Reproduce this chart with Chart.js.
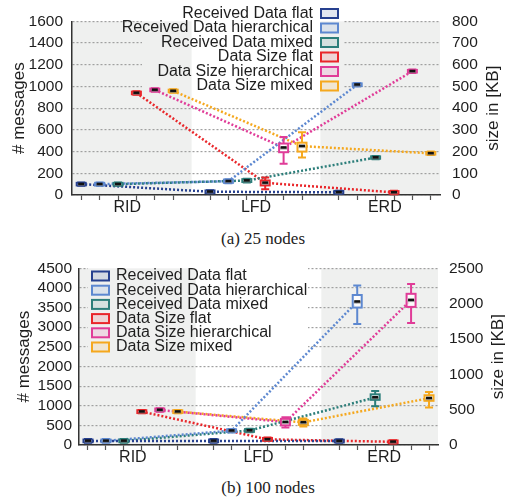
<!DOCTYPE html>
<html><head><meta charset="utf-8">
<script src="https://cdn.jsdelivr.net/npm/chart.js@4.4.1/dist/chart.umd.min.js"></script>
<style>
html,body{margin:0;padding:0;background:#fff;width:505px;height:500px;overflow:hidden;}
.wrap{position:absolute;left:0;width:505px;height:225px;}
.cap{position:absolute;transform:translateX(-50%);white-space:nowrap;font-family:"Liberation Serif","Times New Roman",serif;font-size:17px;line-height:20px;color:#222;}
</style></head><body>
<div class="wrap" style="top:0px"><canvas id="ca"></canvas></div>
<div class="cap" style="left:263px;top:229px">(a) 25 nodes</div>
<div class="wrap" style="top:248px"><canvas id="cb"></canvas></div>
<div class="cap" style="left:268px;top:478px">(b) 100 nodes</div>
<script>
// ---------- data ----------
const categories = ['RID', 'LFD', 'ERD'];
const seriesLabels = ['Received Data flat', 'Received Data hierarchical', 'Received Data mixed',
                      'Data Size flat', 'Data Size hierarchical', 'Data Size mixed'];
const leftTitle = '# messages';
const rightTitle = 'size in [KB]';

// each entry: [min, q1, median, q3, max] per category (RID, LFD, ERD)
// 25 nodes: received data in # messages, data size in KB
const recvFlat25  = [[86, 88, 100, 112, 114], [16, 18, 30, 42, 44], [11, 13, 25, 37, 39]];
const recvHier25  = [[86, 88, 100, 112, 114], [108, 112, 127, 142, 146], [1000, 1004, 1016, 1028, 1032]];
const recvMixed25 = [[86, 88, 100, 112, 114], [116, 120, 133, 146, 150], [330, 334, 345, 356, 360]];
const sizeFlat25  = [[462, 464, 470, 476, 478], [27, 44, 56, 67, 81], [4, 6, 12, 18, 20]];
const sizeHier25  = [[476, 478, 484, 490, 492], [144, 197, 218, 237, 267], [562, 564, 570, 576, 578]];
const sizeMixed25 = [[471, 473, 479, 485, 487], [173, 200, 225, 241, 289], [184, 186, 192, 198, 200]];

// 100 nodes
const recvFlat100  = [[60, 70, 105, 140, 150], [60, 70, 105, 140, 150], [55, 65, 100, 135, 145]];
const recvHier100  = [[60, 70, 105, 140, 150], [320, 330, 365, 400, 410], [3080, 3500, 3650, 3820, 4060]];
const recvMixed100 = [[60, 70, 105, 140, 150], [325, 335, 370, 405, 415], [985, 1150, 1210, 1290, 1375]];
const sizeFlat100  = [[448, 452, 472, 492, 496], [55, 60, 80, 100, 105], [22, 26, 45, 64, 68]];
const sizeHier100  = [[472, 476, 496, 516, 520], [246, 278, 324, 370, 393], [1727, 1954, 2050, 2139, 2278]];
const sizeMixed100 = [[448, 452, 472, 492, 496], [260, 285, 320, 355, 375], [532, 625, 662, 704, 750]];

// axis ticks
const leftMax25 = 1600, leftStep25 = 200, rightMax25 = 800, rightStep25 = 100;
const leftMax100 = 4500, leftStep100 = 500, rightMax100 = 2500, rightStep100 = 500;

// ---------- style ----------
const colors = ['#26408f', '#5d88d0', '#2c7e7a', '#e9262a', '#e03c98', '#f5a81e'];
const FONT = '"Liberation Sans", Arial, Helvetica, sans-serif';
const TXT = '#1e1e1e';
const SHADE = '#eff0ef';
const GROUP = 7;                       // 6 slots + 1 gap per category
const slotTicks = [];
for (let c = 0; c < categories.length; c++) for (let s = 0; s < 6; s++) slotTicks.push(c * GROUP + s);
const catPos = categories.map((_, c) => c * GROUP + 2.5);
const shadeRanges = [[-0.5, 6], [13, 19.5]];

function build(id, series, geo) {
  const datasets = series.map((s, i) => ({
    label: seriesLabels[i],
    data: s.map((b, c) => ({ x: c * GROUP + i, y: b[2] })),
    boxes: s,
    slot: i,
    yAxisID: i < 3 ? 'y' : 'y1',
    borderColor: colors[i],
    backgroundColor: colors[i],
    borderWidth: 2.5,
    borderDash: [2, 2],
    pointRadius: 0,
    fill: false,
    tension: 0
  }));

  function shade(chart) {
    const { ctx, chartArea: a, scales: { x } } = chart;
    ctx.save();
    ctx.fillStyle = SHADE;
    shadeRanges.forEach(([s, e]) => {
      const x0 = x.getPixelForValue(s), x1 = x.getPixelForValue(e);
      ctx.fillRect(x0, a.top, x1 - x0, a.bottom - a.top);
    });
    ctx.restore();
  }

  const plugin = {
    id: 'custom_' + id,
    beforeDraw(chart) { shade(chart); },
    beforeDatasetsDraw(chart) {
      const { ctx, chartArea: a } = chart;
      const L = geo.legend;
      ctx.save();
      ctx.beginPath(); ctx.rect(L.bx, L.by, L.bw, L.bh); ctx.clip();
      ctx.beginPath(); ctx.rect(a.left + 1, a.top - 1, a.right - a.left - 1, a.bottom - a.top); ctx.clip();
      ctx.fillStyle = '#fff';
      ctx.fillRect(L.bx, L.by, L.bw, L.bh);
      shade(chart);
      ctx.restore();
    },
    afterDatasetsDraw(chart) {
      const { ctx, scales: { x } } = chart;
      ctx.save();
      chart.data.datasets.forEach(ds => {
        const ys = chart.scales[ds.yAxisID];
        ds.boxes.forEach((b, c) => {
          const px = x.getPixelForValue(c * GROUP + ds.slot);
          const [mn, q1, md, q3, mx] = b.map(v => ys.getPixelForValue(v));
          const hw = 4.5, cw = 4;
          ctx.strokeStyle = ds.borderColor;
          ctx.lineWidth = 2;
          ctx.beginPath();
          ctx.moveTo(px, q3); ctx.lineTo(px, mx);
          ctx.moveTo(px, q1); ctx.lineTo(px, mn);
          ctx.moveTo(px - cw, mx); ctx.lineTo(px + cw, mx);
          ctx.moveTo(px - cw, mn); ctx.lineTo(px + cw, mn);
          ctx.stroke();
          ctx.fillStyle = 'rgba(255,255,255,0.8)';
          ctx.fillRect(px - hw, q3, hw * 2, q1 - q3);
          ctx.strokeRect(px - hw, q3, hw * 2, q1 - q3);
          ctx.fillStyle = 'rgba(120,120,120,0.6)';
          ctx.fillRect(px - 3.5, md - 0.5, 7, 2.5);
          ctx.fillStyle = '#111';
          ctx.fillRect(px - 3, md - 1.5, 6, 2.5);
        });
      });
      ctx.restore();
    },
    afterDraw(chart) {
      const { ctx, chartArea: a } = chart;
      const L = geo.legend;
      ctx.save();
      ctx.font = '16px ' + FONT;
      ctx.textBaseline = 'middle';
      seriesLabels.forEach((lab, i) => {
        const y = L.y0 + i * L.dy;
        ctx.fillStyle = TXT;
        ctx.textAlign = L.align;
        ctx.fillText(lab, L.tx, y);
        ctx.fillStyle = colors[i] + '22';
        ctx.fillRect(L.boxX, y - 4.5, 17, 9);
        ctx.strokeStyle = colors[i];
        ctx.lineWidth = 2;
        ctx.strokeRect(L.boxX, y - 4.5, 17, 9);
      });
      // axis titles (both read bottom to top)
      const cy = (a.top + a.bottom) / 2;
      ctx.font = '17px ' + FONT;
      ctx.fillStyle = TXT;
      ctx.textAlign = 'center';
      ctx.textBaseline = 'middle';
      ctx.save(); ctx.translate(geo.ltx, cy); ctx.rotate(-Math.PI / 2); ctx.fillText(leftTitle, 0, 0); ctx.restore();
      ctx.save(); ctx.translate(geo.rtx, cy); ctx.rotate(-Math.PI / 2); ctx.fillText(rightTitle, 0, 0); ctx.restore();
      ctx.restore();
    }
  };

  const plain = v => String(v);

  return new Chart(document.getElementById(id), {
    type: 'line',
    data: { datasets },
    options: {
      responsive: true, maintainAspectRatio: false, animation: false, events: [],
      layout: { padding: { top: geo.top, left: 0, right: 0, bottom: 0 } },
      plugins: { legend: { display: false }, tooltip: { enabled: false } },
      scales: {
        x: {
          type: 'linear', min: -0.5, max: 19.5,
          afterBuildTicks: s => { s.ticks = slotTicks.concat(catPos).sort((p, q) => p - q).map(v => ({ value: v })); },
          afterFit: s => { s.height = geo.xh; },
          ticks: {
            autoSkip: false, maxRotation: 0, minRotation: 0, padding: geo.xpad, color: TXT,
            font: { family: FONT, size: 16 },
            callback: v => { const k = catPos.indexOf(v); return k >= 0 ? categories[k] : ''; }
          },
          grid: {
            drawOnChartArea: false, drawTicks: true, tickLength: 5, tickWidth: 1.2,
            tickColor: c => (c.tick && Number.isInteger(c.tick.value)) ? '#555' : 'rgba(0,0,0,0)'
          },
          border: { display: true, color: '#333', width: 1.5 }
        },
        y: {
          position: 'left', min: 0, max: geo.lmax,
          afterFit: s => { s.width = geo.lw; },
          ticks: { stepSize: geo.lstep, autoSkip: false, callback: plain, padding: geo.lpad, color: TXT, font: { family: FONT, size: 15.5 } },
          grid: { color: '#a0a0a0', lineWidth: 1.2, drawTicks: false },
          border: { display: true, color: '#333', width: 1.5, dash: [2, 2] }
        },
        y1: {
          position: 'right', min: 0, max: geo.rmax,
          afterFit: s => { s.width = geo.rw; },
          ticks: { stepSize: geo.rstep, autoSkip: false, callback: plain, padding: geo.rpad, color: TXT, font: { family: FONT, size: 15.5 } },
          grid: { drawOnChartArea: false, drawTicks: false },
          border: { display: false }
        }
      }
    },
    plugins: [plugin]
  });
}

build('ca', [recvFlat25, recvHier25, recvMixed25, sizeFlat25, sizeHier25, sizeMixed25], {
  top: 15.7, xh: 30, lw: 72, rw: 65, lpad: 9, rpad: 12, xpad: -2,
  lmax: leftMax25, lstep: leftStep25, rmax: rightMax25, rstep: rightStep25,
  ltx: 19, rtx: 493,
  legend: { align: 'right', tx: 313, boxX: 321, y0: 13.5, dy: 14.5, bx: 142, by: 0, bw: 201, bh: 95 }
});
build('cb', [recvFlat100, recvHier100, recvMixed100, sizeFlat100, sizeHier100, sizeMixed100], {
  top: 17, xh: 28, lw: 79, rw: 67, lpad: 7, rpad: 11, xpad: -2,
  lmax: leftMax100, lstep: leftStep100, rmax: rightMax100, rstep: rightStep100,
  ltx: 24, rtx: 498,
  legend: { align: 'left', tx: 116, boxX: 92, y0: 28, dy: 14.2, bx: 88, by: 20, bw: 220, bh: 88 }
});
</script>
</body></html>
